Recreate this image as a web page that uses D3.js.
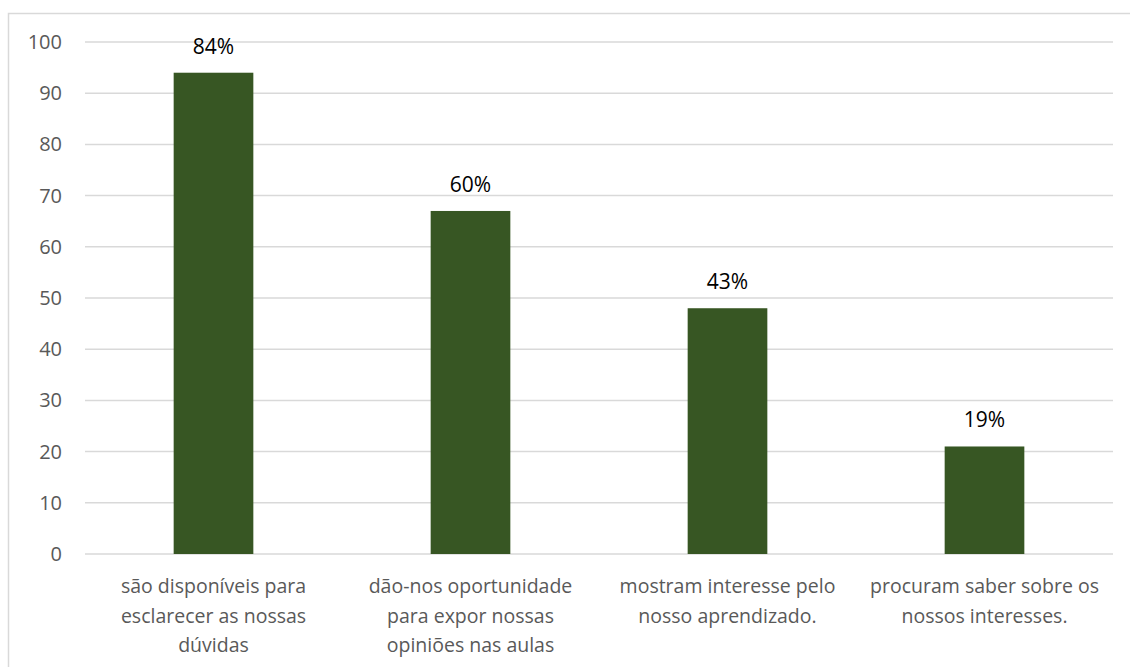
<!DOCTYPE html>
<html><head><meta charset="utf-8">
<script src="https://cdn.jsdelivr.net/npm/d3@7"></script>
<style>body{margin:0;background:#fff}svg{display:block}</style>
</head><body>
<svg id="c" width="1130" height="667"></svg>
<script>
const categories = [
  ["são disponíveis para","esclarecer as nossas","dúvidas"],
  ["dão-nos oportunidade","para expor nossas","opiniões nas aulas"],
  ["mostram interesse pelo","nosso aprendizado."],
  ["procuram saber sobre os","nossos interesses."]
];
const values = [94, 67, 48, 21];
const valueLabels = ["84%", "60%", "43%", "19%"];
const yTicks = [0,10,20,30,40,50,60,70,80,90,100];

const font = "'Open Sans', 'Noto Sans', sans-serif";
const svg = d3.select("#c");
const mLeft = 85, mRight = 1113, mTop = 42, mBottom = 554;

svg.append("rect").attr("x",8.5).attr("y",13.5).attr("width",1140).attr("height",700)
  .attr("fill","none").attr("stroke","#d9d9d9").attr("stroke-width",1.5);

const x = d3.scaleBand().domain(d3.range(categories.length)).range([mLeft,mRight]).paddingInner(0.69).paddingOuter(0.345);
const y = d3.scaleLinear().domain([0,100]).range([mBottom,mTop]);

const g = svg.append("g");
g.selectAll("line.grid").data(yTicks).join("line").attr("class","grid")
  .attr("x1",mLeft).attr("x2",mRight).attr("y1",d=>y(d)).attr("y2",d=>y(d))
  .attr("stroke","#d9d9d9").attr("stroke-width",1.5);

g.selectAll("text.yt").data(yTicks).join("text").attr("class","yt")
  .attr("x",62).attr("y",d=>y(d)).attr("dy","0.35em").attr("text-anchor","end")
  .attr("font-family",font).attr("font-size",20).attr("fill","#595959").text(d=>d);

g.selectAll("rect.bar").data(values).join("rect").attr("class","bar")
  .attr("x",(d,i)=>x(i)).attr("width",x.bandwidth())
  .attr("y",d=>y(d)).attr("height",d=>y(0)-y(d)).attr("fill","#375623");

g.selectAll("text.vl").data(values).join("text").attr("class","vl")
  .attr("x",(d,i)=>x(i)+x.bandwidth()/2).attr("y",d=>y(d)-19)
  .attr("text-anchor","middle").attr("font-family",font).attr("font-size",21).attr("fill","#000")
  .text((d,i)=>valueLabels[i]);

categories.forEach((lines,i)=>{
  const t = g.append("text").attr("text-anchor","middle").attr("font-family",font)
    .attr("font-size",19.5).attr("fill","#595959");
  lines.forEach((ln,j)=>{
    t.append("tspan").attr("x",x(i)+x.bandwidth()/2).attr("y",593+j*29.5).text(ln);
  });
});
</script>
</body></html>
